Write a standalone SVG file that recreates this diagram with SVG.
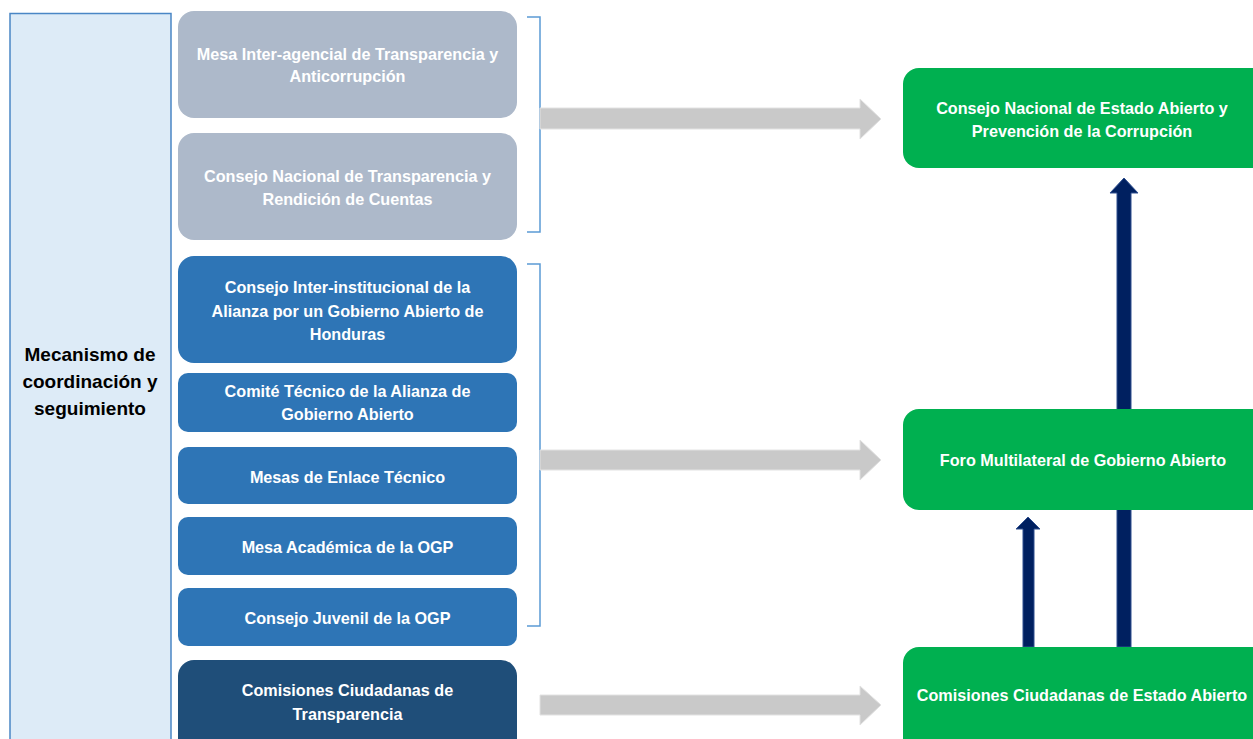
<svg xmlns="http://www.w3.org/2000/svg" width="1253" height="739" viewBox="0 0 1253 739">
<style>
  text { font-family: "Liberation Sans", Arial, sans-serif; font-weight: bold; text-anchor: middle; }
  .w { fill: #ffffff; font-size: 16.2px; }
  .k { fill: #000000; font-size: 19px; }
  .grey { fill: #ADB9CA; }
  .blue { fill: #2E75B6; }
  .dark { fill: #1F4E79; }
  .green { fill: #00B050; }
  .garrow { fill: #C9C9C9; stroke: #E2E2E2; stroke-width: 1; }
  .narrow { fill: #002060; stroke: #2F4F8F; stroke-width: 1; }
  .bracket { fill: none; stroke: #5B9BD5; stroke-width: 1.5; }
</style>
<rect width="1253" height="739" fill="#ffffff"/>

<g id="panel">
  <rect x="10" y="13.5" width="161" height="740" fill="#DDEBF7" stroke="#4A86C5" stroke-width="1.5"/>
  <text class="k" x="90" y="361">Mecanismo de</text>
  <text class="k" x="90" y="388">coordinación y</text>
  <text class="k" x="90" y="415">seguimiento</text>
</g>

<g id="brackets">
  <path class="bracket" d="M527 17 H540 V232 H527"/>
  <path class="bracket" d="M527 264 H540 V626 H527"/>
</g>

<g id="connectors">
  <polygon class="garrow" points="540,108 860,108 860,99 881,119 860,139 860,129 540,129"/>
  <polygon class="garrow" points="540,450 860,450 860,440 881,460 860,480 860,470 540,470"/>
  <polygon class="garrow" points="540,695 860,695 860,686 881,705 860,725 860,715 540,715"/>
  <polygon class="narrow" points="1117,647 1117,193 1110,193 1124,178 1138,193 1131,193 1131,647"/>
  <polygon class="narrow" points="1023,647 1023,529 1016,529 1028,517 1040,529 1034,529 1034,647"/>
</g>

<g id="n-mesa-interagencial">
  <rect class="grey" x="178" y="11" width="339" height="107" rx="16"/>
  <text class="w" x="347.5" y="60">Mesa Inter-agencial de Transparencia y</text>
  <text class="w" x="347.5" y="82">Anticorrupción</text>
</g>
<g id="n-consejo-transparencia">
  <rect class="grey" x="178" y="133" width="339" height="107" rx="16"/>
  <text class="w" x="347.5" y="182">Consejo Nacional de Transparencia y</text>
  <text class="w" x="347.5" y="205">Rendición de Cuentas</text>
</g>
<g id="n-consejo-interinstitucional">
  <rect class="blue" x="178" y="256" width="339" height="107" rx="16"/>
  <text class="w" x="347.5" y="293">Consejo Inter-institucional de la</text>
  <text class="w" x="347.5" y="317">Alianza por un Gobierno Abierto de</text>
  <text class="w" x="347.5" y="340">Honduras</text>
</g>
<g id="n-comite-tecnico">
  <rect class="blue" x="178" y="373" width="339" height="59" rx="10"/>
  <text class="w" x="347.5" y="397">Comité Técnico de la Alianza de</text>
  <text class="w" x="347.5" y="420">Gobierno Abierto</text>
</g>
<g id="n-mesas-enlace">
  <rect class="blue" x="178" y="447" width="339" height="57" rx="10"/>
  <text class="w" x="347.5" y="483">Mesas de Enlace Técnico</text>
</g>
<g id="n-mesa-academica">
  <rect class="blue" x="178" y="517" width="339" height="58" rx="10"/>
  <text class="w" x="347.5" y="553">Mesa Académica de la OGP</text>
</g>
<g id="n-consejo-juvenil">
  <rect class="blue" x="178" y="588" width="339" height="58" rx="10"/>
  <text class="w" x="347.5" y="624">Consejo Juvenil de la OGP</text>
</g>
<g id="n-comisiones-transparencia">
  <rect class="dark" x="178" y="660" width="339" height="100" rx="16"/>
  <text class="w" x="347.5" y="696">Comisiones Ciudadanas de</text>
  <text class="w" x="347.5" y="720">Transparencia</text>
</g>

<g id="n-consejo-estado-abierto">
  <rect class="green" x="903" y="68" width="370" height="100" rx="16"/>
  <text class="w" x="1082" y="114">Consejo Nacional de Estado Abierto y</text>
  <text class="w" x="1082" y="137">Prevención de la Corrupción</text>
</g>
<g id="n-foro-multilateral">
  <rect class="green" x="903" y="409" width="370" height="101" rx="16"/>
  <text class="w" x="1083" y="466">Foro Multilateral de Gobierno Abierto</text>
</g>
<g id="n-comisiones-estado-abierto">
  <rect class="green" x="903" y="647" width="370" height="110" rx="16"/>
  <text class="w" x="1082" y="701">Comisiones Ciudadanas de Estado Abierto</text>
</g>
</svg>
